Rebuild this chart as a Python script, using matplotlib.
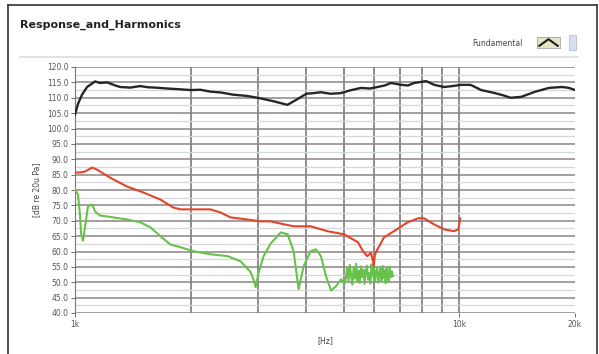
import matplotlib
matplotlib.use("Agg")
import matplotlib.pyplot as plt
from matplotlib.lines import Line2D
from matplotlib.patches import Rectangle
from matplotlib.ticker import FixedLocator, MultipleLocator, NullFormatter

# Fundamental response
fund_f = [1000, 1018, 1043, 1075, 1128, 1162, 1212, 1272, 1311, 1392, 1478, 1550, 1618,
          1737, 1850, 2000, 2120, 2250, 2400, 2580, 2800, 3040, 3300, 3570, 3750, 4000,
          4180, 4360, 4620, 4920, 5200, 5550, 5850, 6130, 6400, 6640, 7060, 7350, 7630,
          8200, 8600, 9130, 9600, 10100, 10700, 11400, 12300, 13000, 13600, 14500, 15700,
          17100, 18500, 19300, 20000]
fund_db = [104.5, 108, 111, 113.5, 115.3, 114.8, 115, 114, 113.5, 113.3, 113.8, 113.4, 113.3,
           113, 112.8, 112.5, 112.6, 112, 111.7, 111, 110.6, 109.8, 108.8, 107.7, 109.2, 111.3,
           111.5, 111.8, 111.3, 111.5, 112.4, 113.2, 113.0, 113.5, 114.0, 114.8, 114.2, 114.0, 114.8,
           115.4, 114.2, 113.5, 113.8, 114.2, 114.2, 112.5, 111.6, 110.8, 110, 110.3, 111.9,
           113.2, 113.5, 113.2, 112.5]

# 2nd harmonic
h2_f = [1000, 1030, 1062, 1108, 1142, 1234, 1367, 1505, 1667, 1802, 1880, 2033, 2252, 2390,
        2538, 2811, 3040, 3226, 3450, 3706, 4103, 4540, 5010, 5450, 5620, 5760, 5890, 5960,
        5990, 6030, 6110, 6370, 6760, 7340, 7820, 8100, 8600, 9130, 9690, 9940, 10060]
h2_db = [85.7, 85.7, 86, 87.3, 86.6, 84, 81.1, 79.2, 76.9, 74.3, 73.7, 73.7, 73.7, 72.7,
         71.1, 70.4, 69.8, 69.8, 69.0, 68.2, 68.2, 66.6, 65.6, 63, 60, 58.5, 59.5, 57,
         55.5, 59, 60.5, 64.6, 66.6, 69.5, 70.8, 70.8, 68.8, 67.2, 66.6, 67.2, 70.8]

# 3rd harmonic
h3_f = [1000, 1018, 1030, 1037, 1049, 1062, 1081, 1108, 1128, 1162, 1256, 1367, 1478, 1570,
        1667, 1770, 1880, 2033, 2252, 2493, 2698, 2864, 2920, 2951, 3003, 3096, 3226, 3430,
        3576, 3706, 3818, 3935, 4103, 4234, 4364, 4498, 4636, 4778, 4924, 5030,
        5070, 5110, 5150, 5190, 5230, 5270, 5310, 5350, 5390, 5430, 5470, 5510, 5550, 5590,
        5630, 5670, 5710, 5750, 5790, 5830, 5870, 5910, 5950, 5990, 6030, 6070, 6110, 6150,
        6190, 6230, 6270, 6310, 6350, 6390, 6430, 6470, 6510, 6550, 6590, 6630, 6670, 6720]
h3_db = [80.2, 78.5, 72, 66, 63.5, 68, 74.7, 75.3, 73, 71.7, 71.1, 70.4, 69.5, 67.9,
         65, 62.3, 61.4, 60.1, 59.1, 58.5, 56.8, 53.3, 50.5, 48.4, 53, 58.5, 62.5, 66.2,
         65.6, 60, 47.8, 55.2, 60.1, 60.7, 58.5, 52, 47.3, 48.7, 51, 49.5,
         51.5, 54.8, 50.2, 55.6, 52.1, 49.3, 54.9, 51.2, 56.0, 50.4, 53.8, 49.8, 55.2, 51.7,
         54.1, 49.5, 53.6, 55.4, 50.8, 53.0, 49.6, 55.8, 51.9, 54.5, 50.1, 53.3, 55.0, 49.9,
         52.7, 54.6, 50.5, 55.3, 51.4, 53.9, 49.7, 54.7, 52.2, 50.3, 55.1, 51.6, 53.5, 52.0]

x_ticks = [1000, 10000, 20000]
x_ticklabels = ["1k", "10k", "20k"]
decade_lines = [1000, 2000, 3000, 4000, 5000, 6000, 7000, 8000, 9000, 10000]

W, H = 599, 354
fig = plt.figure(figsize=(W / 100, H / 100), dpi=100)
fig.patch.set_facecolor("white")

ax = fig.add_axes([75 / W, 1 - 313 / H, 500 / W, 246 / H])
ax.set_facecolor("white")
ax.set_xscale("log")
ax.set_xlim(1000, 20000)
ax.set_ylim(40, 120)

# grid: dark every 5 dB, light in between, verticals only inside the first decade
ax.yaxis.set_major_locator(MultipleLocator(5))
ax.yaxis.set_minor_locator(MultipleLocator(2.5))
ax.grid(which="major", axis="y", color="#8c8484", lw=1.1, zorder=1)
ax.grid(which="minor", axis="y", color="#d6d6da", lw=0.9, zorder=0)
ax.tick_params(axis="y", which="minor", length=0)
for f in decade_lines:
    ax.axvline(f, color="#746c6c", lw=1.1, zorder=1)

ax.xaxis.set_major_locator(FixedLocator(x_ticks))
ax.xaxis.set_minor_locator(FixedLocator([]))
ax.xaxis.set_minor_formatter(NullFormatter())
ax.set_xticklabels(x_ticklabels)
ax.set_yticks(range(40, 121, 5))
ax.set_yticklabels([f"{v:.1f}" for v in range(40, 121, 5)])
ax.tick_params(axis="both", labelsize=5.5, colors="#555555", length=3, width=0.6, pad=1.5)
ax.tick_params(axis="x", pad=2)
for s in ["top", "right", "bottom"]:
    ax.spines[s].set_visible(False)
ax.spines["left"].set_color("#777777")
ax.spines["left"].set_linewidth(0.8)

ax.plot(h3_f, h3_db, color="#66c24a", lw=1.5, zorder=3)
ax.plot(h2_f, h2_db, color="#e2452a", lw=1.5, zorder=4)
ax.plot(fund_f, fund_db, color="#262626", lw=1.7, zorder=5)

ax.set_ylabel("[dB re 20u Pa]", fontsize=5.5, color="#444444", labelpad=4)
ax.set_xlabel("[Hz]", fontsize=5.5, color="#444444", labelpad=5)

# title and separator
fig.text(20 / W, 1 - 25 / H, "Response_and_Harmonics", fontsize=8, fontweight="bold",
         color="#222222", ha="left", va="center")
fig.add_artist(Line2D([20 / W, 578 / W], [1 - 57 / H, 1 - 57 / H], color="#dddddd", lw=1.2))

# legend entry
fig.text(523 / W, 1 - 44 / H, "Fundamental", fontsize=5.5, color="#444444", ha="right", va="center")
leg = fig.add_axes([537 / W, 1 - 48 / H, 23 / W, 11 / H])
leg.set_facecolor("#e6e4c6")
leg.plot([0.1, 0.5, 0.9], [0.2, 0.8, 0.2], color="#222222", lw=1.5)
leg.set_xlim(0, 1)
leg.set_ylim(0, 1)
leg.set_xticks([])
leg.set_yticks([])
for s in leg.spines.values():
    s.set_color("#999999")
    s.set_linewidth(0.5)
fig.add_artist(Rectangle((569 / W, 1 - 50 / H), 7 / W, 15 / H, facecolor="#d8e2ee",
                         edgecolor="#aab4c4", lw=0.5))

# outer frame
fig.add_artist(Line2D([8 / W, 597 / W], [1 - 5 / H, 1 - 5 / H], color="#333333", lw=1.2))
fig.add_artist(Line2D([8 / W, 8 / W], [0, 1 - 5 / H], color="#333333", lw=1.2))
fig.add_artist(Line2D([597 / W, 597 / W], [0, 1 - 5 / H], color="#333333", lw=1.2))

fig.savefig("out.png", dpi=100)
plt.close(fig)
